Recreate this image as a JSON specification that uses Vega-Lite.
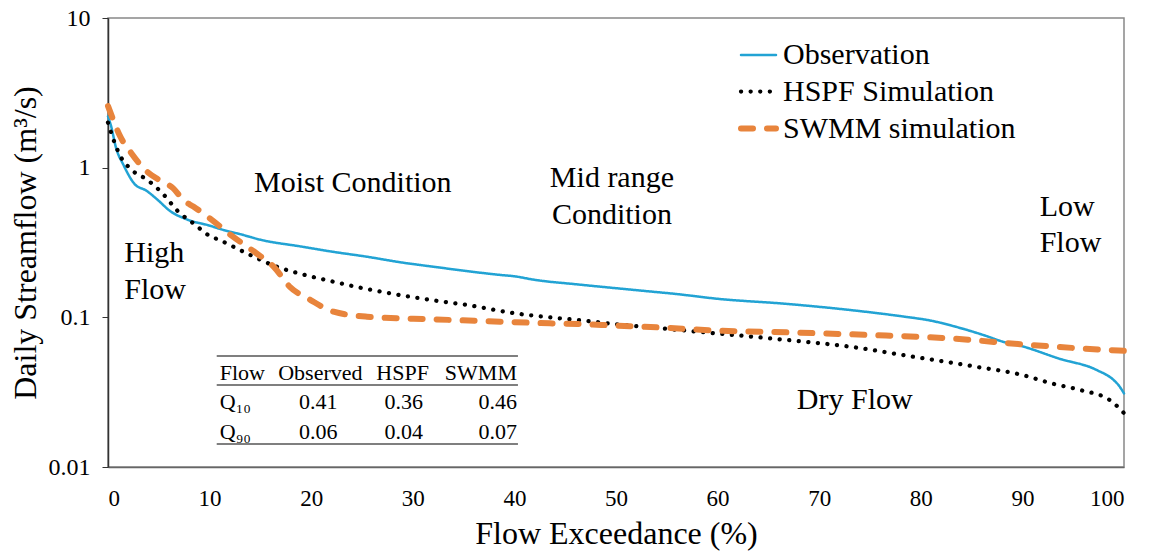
{
  "$schema": "https://vega.github.io/schema/vega-lite/v6.json",
  "width": 1016,
  "height": 449,
  "autosize": "none",
  "padding": {"left": 108, "top": 18, "right": 25, "bottom": 85},
  "background": "white",
  "config": {
    "font": "'Liberation Serif', 'Times New Roman', Times, 'DejaVu Serif', serif",
    "view": {"stroke": "#888888", "strokeWidth": 1.5},
    "text": {"font": "'Liberation Serif', 'Times New Roman', Times, 'DejaVu Serif', serif"},
    "legend": {"labelFont": "'Liberation Serif', 'Times New Roman', Times, 'DejaVu Serif', serif"},
    "axis": {"grid": false, "labelColor": "#000", "titleColor": "#000", "titleFontWeight": "normal", "labelFont": "'Liberation Serif', 'Times New Roman', Times, 'DejaVu Serif', serif", "titleFont": "'Liberation Serif', 'Times New Roman', Times, 'DejaVu Serif', serif"}
  },
  "datasets": {
    "curves": [
      {"series": "Observation", "x": 0, "y": 2.2},
      {"series": "Observation", "x": 0.3, "y": 1.9},
      {"series": "Observation", "x": 0.8, "y": 1.35},
      {"series": "Observation", "x": 1.5, "y": 1.05},
      {"series": "Observation", "x": 2.6, "y": 0.78},
      {"series": "Observation", "x": 3.8, "y": 0.7},
      {"series": "Observation", "x": 5, "y": 0.6},
      {"series": "Observation", "x": 6, "y": 0.52},
      {"series": "Observation", "x": 7.8, "y": 0.45},
      {"series": "Observation", "x": 10, "y": 0.41},
      {"series": "Observation", "x": 11, "y": 0.39},
      {"series": "Observation", "x": 13.3, "y": 0.355},
      {"series": "Observation", "x": 15, "y": 0.33},
      {"series": "Observation", "x": 18.9, "y": 0.298},
      {"series": "Observation", "x": 22, "y": 0.275},
      {"series": "Observation", "x": 25.5, "y": 0.254},
      {"series": "Observation", "x": 29, "y": 0.232},
      {"series": "Observation", "x": 32, "y": 0.218},
      {"series": "Observation", "x": 35, "y": 0.205},
      {"series": "Observation", "x": 38.6, "y": 0.192},
      {"series": "Observation", "x": 40, "y": 0.188},
      {"series": "Observation", "x": 42, "y": 0.178},
      {"series": "Observation", "x": 46.2, "y": 0.166},
      {"series": "Observation", "x": 52.4, "y": 0.151},
      {"series": "Observation", "x": 56, "y": 0.143},
      {"series": "Observation", "x": 60, "y": 0.133},
      {"series": "Observation", "x": 66.8, "y": 0.123},
      {"series": "Observation", "x": 73, "y": 0.112},
      {"series": "Observation", "x": 78.4, "y": 0.101},
      {"series": "Observation", "x": 81, "y": 0.095},
      {"series": "Observation", "x": 83.3, "y": 0.087},
      {"series": "Observation", "x": 86.2, "y": 0.076},
      {"series": "Observation", "x": 88, "y": 0.069},
      {"series": "Observation", "x": 90, "y": 0.064},
      {"series": "Observation", "x": 93.6, "y": 0.053},
      {"series": "Observation", "x": 97.3, "y": 0.0445},
      {"series": "Observation", "x": 99, "y": 0.038},
      {"series": "Observation", "x": 99.5, "y": 0.035},
      {"series": "Observation", "x": 100, "y": 0.031},
      {"series": "HSPF Simulation", "x": 0, "y": 2.0},
      {"series": "HSPF Simulation", "x": 0.6, "y": 1.5},
      {"series": "HSPF Simulation", "x": 1.2, "y": 1.2},
      {"series": "HSPF Simulation", "x": 2.3, "y": 0.97},
      {"series": "HSPF Simulation", "x": 3.85, "y": 0.83},
      {"series": "HSPF Simulation", "x": 5.4, "y": 0.67},
      {"series": "HSPF Simulation", "x": 6.9, "y": 0.51},
      {"series": "HSPF Simulation", "x": 8.5, "y": 0.42},
      {"series": "HSPF Simulation", "x": 10, "y": 0.35},
      {"series": "HSPF Simulation", "x": 10.9, "y": 0.33},
      {"series": "HSPF Simulation", "x": 14, "y": 0.261},
      {"series": "HSPF Simulation", "x": 16.6, "y": 0.218},
      {"series": "HSPF Simulation", "x": 19, "y": 0.195},
      {"series": "HSPF Simulation", "x": 22.2, "y": 0.173},
      {"series": "HSPF Simulation", "x": 25, "y": 0.157},
      {"series": "HSPF Simulation", "x": 28.7, "y": 0.141},
      {"series": "HSPF Simulation", "x": 32, "y": 0.13},
      {"series": "HSPF Simulation", "x": 35.3, "y": 0.121},
      {"series": "HSPF Simulation", "x": 40.2, "y": 0.106},
      {"series": "HSPF Simulation", "x": 43.5, "y": 0.1},
      {"series": "HSPF Simulation", "x": 46.2, "y": 0.096},
      {"series": "HSPF Simulation", "x": 50, "y": 0.09},
      {"series": "HSPF Simulation", "x": 54.4, "y": 0.0845},
      {"series": "HSPF Simulation", "x": 60, "y": 0.078},
      {"series": "HSPF Simulation", "x": 66.8, "y": 0.0706},
      {"series": "HSPF Simulation", "x": 73, "y": 0.0637},
      {"series": "HSPF Simulation", "x": 79.2, "y": 0.0546},
      {"series": "HSPF Simulation", "x": 85.4, "y": 0.0468},
      {"series": "HSPF Simulation", "x": 90, "y": 0.0412},
      {"series": "HSPF Simulation", "x": 93, "y": 0.036},
      {"series": "HSPF Simulation", "x": 95.7, "y": 0.0327},
      {"series": "HSPF Simulation", "x": 98.6, "y": 0.028},
      {"series": "HSPF Simulation", "x": 100, "y": 0.0229},
      {"series": "SWMM simulation", "x": 0, "y": 2.58},
      {"series": "SWMM simulation", "x": 0.5, "y": 2.1},
      {"series": "SWMM simulation", "x": 1.1, "y": 1.67},
      {"series": "SWMM simulation", "x": 2.3, "y": 1.25},
      {"series": "SWMM simulation", "x": 3.85, "y": 0.94},
      {"series": "SWMM simulation", "x": 5, "y": 0.83},
      {"series": "SWMM simulation", "x": 6.4, "y": 0.73},
      {"series": "SWMM simulation", "x": 7.5, "y": 0.6},
      {"series": "SWMM simulation", "x": 8.4, "y": 0.55},
      {"series": "SWMM simulation", "x": 10, "y": 0.46},
      {"series": "SWMM simulation", "x": 12.3, "y": 0.346},
      {"series": "SWMM simulation", "x": 14.6, "y": 0.268},
      {"series": "SWMM simulation", "x": 16.3, "y": 0.218},
      {"series": "SWMM simulation", "x": 17.9, "y": 0.16},
      {"series": "SWMM simulation", "x": 19.9, "y": 0.131},
      {"series": "SWMM simulation", "x": 22.2, "y": 0.109},
      {"series": "SWMM simulation", "x": 25.5, "y": 0.101},
      {"series": "SWMM simulation", "x": 32, "y": 0.097},
      {"series": "SWMM simulation", "x": 38.6, "y": 0.0936},
      {"series": "SWMM simulation", "x": 43.5, "y": 0.0912},
      {"series": "SWMM simulation", "x": 46.2, "y": 0.0903},
      {"series": "SWMM simulation", "x": 50, "y": 0.088},
      {"series": "SWMM simulation", "x": 54.4, "y": 0.0855},
      {"series": "SWMM simulation", "x": 60, "y": 0.0815},
      {"series": "SWMM simulation", "x": 66.8, "y": 0.0794},
      {"series": "SWMM simulation", "x": 75, "y": 0.0762},
      {"series": "SWMM simulation", "x": 83.3, "y": 0.072},
      {"series": "SWMM simulation", "x": 90, "y": 0.066},
      {"series": "SWMM simulation", "x": 95.7, "y": 0.062},
      {"series": "SWMM simulation", "x": 100, "y": 0.0598}
    ],
    "dividers": [{"x": 10.6}, {"x": 40.4}, {"x": 60.3}, {"x": 90}],
    "tableRules": [
      {"x": 10.7, "x2": 40.35, "y": 0.0552},
      {"x": 10.7, "x2": 40.35, "y": 0.0353},
      {"x": 10.7, "x2": 40.35, "y": 0.01426}
    ],
    "labelsCenter": [
      {"x": 24.1, "y": 0.794, "text": "Moist Condition"},
      {"x": 49.6, "y": 0.853, "text": "Mid range"},
      {"x": 49.6, "y": 0.483, "text": "Condition"},
      {"x": 73.5, "y": 0.028, "text": "Dry Flow"}
    ],
    "labelsLeft": [
      {"x": 1.6, "y": 0.268, "text": "High"},
      {"x": 1.6, "y": 0.152, "text": "Flow"},
      {"x": 91.7, "y": 0.548, "text": "Low"},
      {"x": 91.7, "y": 0.313, "text": "Flow"}
    ],
    "tableLeft": [
      {"x": 11.0, "y": 0.0423, "text": "Flow"},
      {"x": 11.0, "y": 0.0273, "text": "Q₁₀"},
      {"x": 11.0, "y": 0.0172, "text": "Q₉₀"}
    ],
    "tableCenter": [
      {"x": 20.9, "y": 0.0423, "text": "Observed"},
      {"x": 29.0, "y": 0.0423, "text": "HSPF"}
    ],
    "tableRight": [
      {"x": 40.25, "y": 0.0423, "text": "SWMM"},
      {"x": 22.6, "y": 0.0273, "text": "0.41"},
      {"x": 31.0, "y": 0.0273, "text": "0.36"},
      {"x": 40.25, "y": 0.0273, "text": "0.46"},
      {"x": 22.6, "y": 0.0172, "text": "0.06"},
      {"x": 31.0, "y": 0.0172, "text": "0.04"},
      {"x": 40.25, "y": 0.0172, "text": "0.07"}
    ]
  },
  "encoding": {
    "x": {
      "field": "x", "type": "quantitative",
      "scale": {"domain": [0, 100], "nice": false, "zero": false},
      "axis": {
        "title": "Flow Exceedance (%)", "values": [0,10,20,30,40,50,60,70,80,90,100],
        "labelFontSize": 23, "titleFontSize": 32, "tickSize": 0, "labelPadding": 20, "titlePadding": 8,
        "domainColor": "#666666", "domainWidth": 1.5
      }
    },
    "y": {
      "field": "y", "type": "quantitative",
      "scale": {"type": "log", "domain": [0.01, 10], "nice": false},
      "axis": {
        "title": "Daily Streamflow (m³/s)", "values": [0.01, 0.1, 1, 10], "format": "~g",
        "labelFontSize": 24, "titleFontSize": 32, "tickSize": 6, "tickColor": "#333333",
        "labelPadding": 12, "titlePadding": 6, "domainColor": "#333333", "domainWidth": 1.5
      }
    }
  },
  "layer": [
    {
      "data": {"name": "dividers"},
      "mark": {"type": "rule", "color": "#444444", "strokeWidth": 1, "strokeDash": [3, 2]},
      "encoding": {"x": {"field": "x", "type": "quantitative"}, "y": {"datum": 10}, "y2": {"datum": 0.01}}
    },
    {
      "data": {"name": "tableRules"},
      "mark": {"type": "rule", "color": "#555555", "strokeWidth": 1.5},
      "encoding": {"x": {"field": "x", "type": "quantitative"}, "x2": {"field": "x2"}, "y": {"field": "y", "type": "quantitative"}}
    },
    {
      "data": {"name": "curves"},
      "mark": {"type": "line", "strokeCap": "round", "strokeJoin": "round", "interpolate": "monotone"},
      "encoding": {
        "color": {
          "field": "series", "type": "nominal",
          "scale": {"domain": ["Observation", "HSPF Simulation", "SWMM simulation"], "range": ["#22A3D4", "#000000", "#E8843C"]},
          "legend": {
            "title": null, "orient": "none", "legendX": 630, "legendY": 18,
            "symbolType": "stroke", "symbolSize": 1225, "labelFontSize": 30,
            "labelColor": "#000", "rowPadding": 1.5, "labelOffset": 4, "labelLimit": 400,
            "encode": {"symbols": {"update": {"strokeCap": {"value": "round"}}}}
          }
        },
        "strokeDash": {
          "field": "series", "type": "nominal",
          "scale": {"domain": ["Observation", "HSPF Simulation", "SWMM simulation"], "range": [[1, 0], [0.1, 9.5], [12, 14]]},
          "legend": {
            "title": null, "orient": "none", "legendX": 630, "legendY": 18,
            "symbolType": "stroke", "symbolSize": 1225, "labelFontSize": 30,
            "labelColor": "#000", "rowPadding": 1.5, "labelOffset": 4, "labelLimit": 400,
            "encode": {"symbols": {"update": {"strokeCap": {"value": "round"}}}}
          }
        },
        "strokeWidth": {
          "field": "series", "type": "nominal",
          "scale": {"domain": ["Observation", "HSPF Simulation", "SWMM simulation"], "range": [2.5, 6, 4.5]},
          "legend": {
            "title": null, "orient": "none", "legendX": 630, "legendY": 18,
            "symbolType": "stroke", "symbolSize": 1225, "labelFontSize": 30,
            "labelColor": "#000", "rowPadding": 1.5, "labelOffset": 4, "labelLimit": 400,
            "encode": {"symbols": {"update": {"strokeCap": {"value": "round"}}}}
          }
        }
      }
    },
    {
      "data": {"name": "labelsCenter"},
      "mark": {"type": "text", "fontSize": 30, "align": "center", "baseline": "middle", "color": "#000"},
      "encoding": {"x": {"field": "x", "type": "quantitative"}, "y": {"field": "y", "type": "quantitative"}, "text": {"field": "text"}}
    },
    {
      "data": {"name": "labelsLeft"},
      "mark": {"type": "text", "fontSize": 30, "align": "left", "baseline": "middle", "color": "#000"},
      "encoding": {"x": {"field": "x", "type": "quantitative"}, "y": {"field": "y", "type": "quantitative"}, "text": {"field": "text"}}
    },
    {
      "data": {"name": "tableLeft"},
      "mark": {"type": "text", "fontSize": 22, "align": "left", "baseline": "middle", "color": "#000"},
      "encoding": {"x": {"field": "x", "type": "quantitative"}, "y": {"field": "y", "type": "quantitative"}, "text": {"field": "text"}}
    },
    {
      "data": {"name": "tableCenter"},
      "mark": {"type": "text", "fontSize": 22, "align": "center", "baseline": "middle", "color": "#000"},
      "encoding": {"x": {"field": "x", "type": "quantitative"}, "y": {"field": "y", "type": "quantitative"}, "text": {"field": "text"}}
    },
    {
      "data": {"name": "tableRight"},
      "mark": {"type": "text", "fontSize": 22, "align": "right", "baseline": "middle", "color": "#000"},
      "encoding": {"x": {"field": "x", "type": "quantitative"}, "y": {"field": "y", "type": "quantitative"}, "text": {"field": "text"}}
    }
  ]
}
